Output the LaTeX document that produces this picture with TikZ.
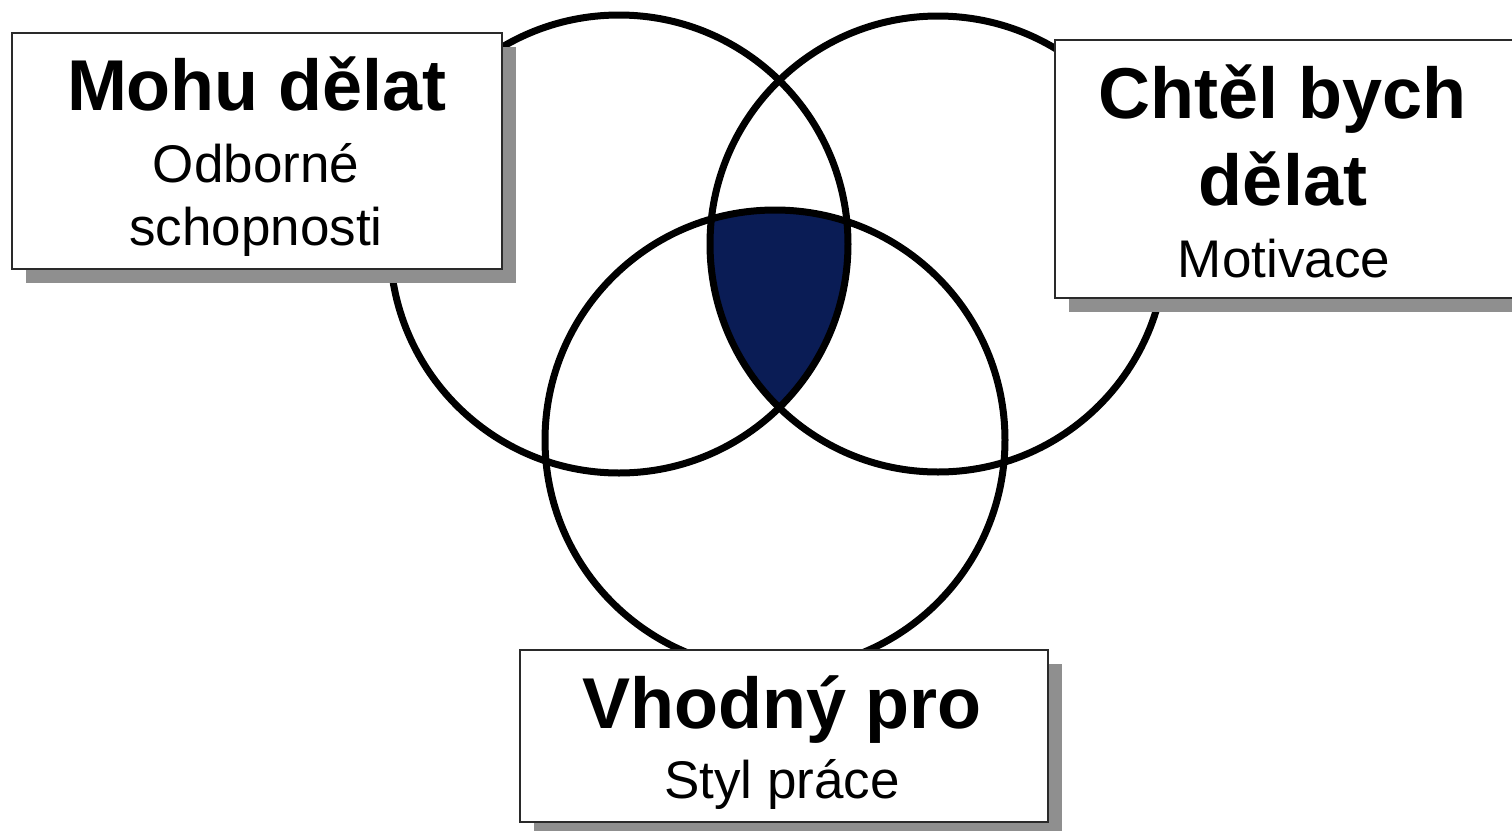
\documentclass[tikz,border=0pt]{standalone}
\usepackage{fontspec}
\setmainfont{Liberation Sans}
\usetikzlibrary{shadows}
\definecolor{navy}{HTML}{0A1C55}
\definecolor{shade}{HTML}{8F8F8F}
\definecolor{edge}{HTML}{2A2A2A}

\begin{document}
\begin{tikzpicture}[x=0.5pt,y=-0.5pt,
  ring/.style={line width=3.5pt,black},
  card/.style={draw=edge,line width=0.8pt,fill=white,inner sep=0pt,
    drop shadow={shadow xshift=7pt,shadow yshift=-7pt,fill=shade,opacity=1}},
  headline/.style={anchor=base,font=\fontsize{36}{40}\selectfont\bfseries},
  subline/.style={anchor=base,font=\fontsize{26.5}{30}\selectfont}]
  \useasboundingbox (0,0) rectangle (1512,831);

  \coordinate (cMohu) at (619,244);
  \coordinate (cChtel) at (938,244);
  \coordinate (cVhodny) at (775,440);

  % common part of all three circles
  \begin{scope}
    \clip (cMohu) circle[radius=229];
    \clip (cChtel) circle[radius=228];
    \fill[navy] (cVhodny) circle[radius=230];
  \end{scope}
  \foreach \c/\r in {cMohu/229,cChtel/228,cVhodny/230}
    \draw[ring] (\c) circle[radius=\r];

  % Mohu delat
  \node[card,minimum width=245pt,minimum height=118pt] (mohu) at (257,151) {};
  \node[headline] (mohuA) at (257,110) {Mohu dělat};
  \node[subline] (mohuB) at (256,182) {Odborné};
  \node[subline] (mohuC) at (256,245) {schopnosti};

  % Chtel bych delat
  \node[card,minimum width=229pt,minimum height=129pt] (chtel) at (1284,169) {};
  \node[headline] (chtelA) at (1283,118) {Chtěl bych};
  \node[headline] (chtelB) at (1283,205) {dělat};
  \node[subline] (chtelC) at (1284,277) {Motivace};

  % Vhodny pro
  \node[card,minimum width=264pt,minimum height=86pt] (vhodny) at (784,736) {};
  \node[headline] (vhodnyA) at (782,728) {Vhodný pro};
  \node[subline] (vhodnyB) at (782,798) {Styl práce};
\end{tikzpicture}
\end{document}
